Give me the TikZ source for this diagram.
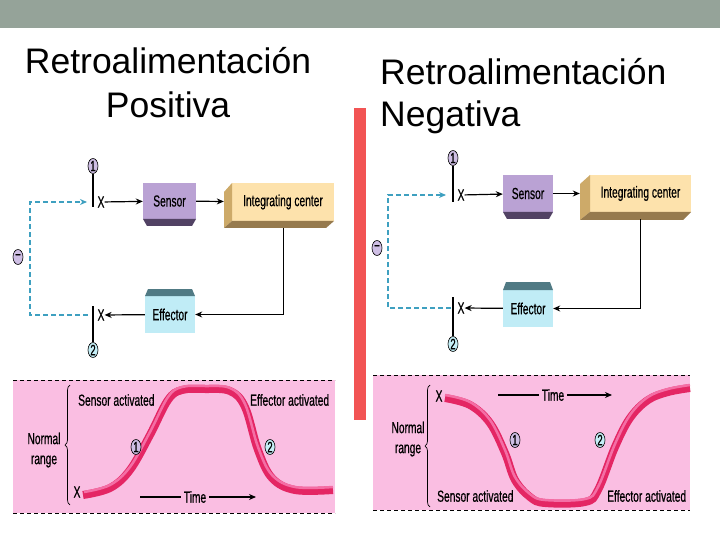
\documentclass[tikz,border=0pt]{standalone}
\usepackage{fontspec}
\setmainfont{Liberation Sans}
\newfontfamily\narrowfont[FakeStretch=0.64,FakeBold=0.6]{Liberation Sans}
\usetikzlibrary{positioning}
\usetikzlibrary{shapes.geometric,arrows.meta,decorations.pathreplacing}

\definecolor{barGray}{RGB}{149,163,153}
\definecolor{splitRed}{RGB}{242,84,84}
\definecolor{sensorFace}{RGB}{186,162,212}
\definecolor{sensorDark}{RGB}{82,66,100}
\definecolor{centerFace}{RGB}{253,226,172}
\definecolor{centerSide}{RGB}{205,170,105}
\definecolor{centerDark}{RGB}{150,122,78}
\definecolor{effFace}{RGB}{192,236,246}
\definecolor{effDark}{RGB}{80,122,132}
\definecolor{fbBlue}{RGB}{62,160,192}
\definecolor{numOne}{RGB}{206,190,228}
\definecolor{numTwo}{RGB}{196,238,246}
\definecolor{graphPink}{RGB}{250,190,226}
\definecolor{bandRed}{RGB}{228,38,100}
\definecolor{bandLight}{RGB}{244,110,165}

\tikzset{
  title/.style={font=\fontsize{35.5}{40}\selectfont, inner sep=0pt},
  lbl/.style={font=\narrowfont\fontsize{16}{20}\selectfont, inner sep=0pt},
  num/.style={ellipse, draw, line width=0.6pt, minimum width=10pt, minimum height=15pt,
    inner sep=0pt, font=\narrowfont\fontsize{15}{15}\selectfont},
  arr/.style={line width=1.2pt, -{Stealth[length=7pt,width=6pt]}},
  fb/.style={dash pattern=on 5pt off 3pt, line width=1.3pt, draw=fbBlue,
    -{Stealth[length=7pt,width=6pt]}},
  tick/.style={line width=1.5pt},
  band/.style={line width=8pt, draw=bandRed},
  bandhi/.style={line width=2.5pt, draw=bandLight},
  rule/.style={dash pattern=on 4pt off 3pt, line width=0.9pt},
  brc/.style={decorate, decoration={brace, amplitude=5pt}, line width=0.7pt},
}

\begin{document}
\begin{tikzpicture}[x=1pt,y=-1pt]
 \useasboundingbox (0,0) rectangle (720,540);
 \fill[barGray] (0,0) rectangle (720,28);
 \fill[splitRed] (354,108) rectangle (366,420);

 % titles
 \node[title, anchor=base] (tpos1) at (168,74) {Retroalimentación};
 \node[title, anchor=base] (tpos2) at (168,118) {Positiva};
 \node[title, anchor=base west] (tneg1) at (380,85) {Retroalimentación};
 \node[title, anchor=base west] (tneg2) at (380,127) {Negativa};

 % positive loop
 \node[lbl, fill=sensorFace, minimum width=53pt, minimum height=36pt] (sena) at (169.5,201) {Sensor};
 \fill[sensorDark] (143,219) -- (196,219) -- (192,226) -- (147,226) -- cycle;
 \node[lbl, fill=centerFace, minimum width=102pt, minimum height=38pt] (inta) at (283,202) {Integrating center};
 \fill[centerSide] (232,183) -- (224,192) -- (224,228) -- (232,221) -- cycle;
 \fill[centerDark] (224,228) -- (232,221) -- (334,221) -- (326,228) -- cycle;
 \node[lbl, fill=effFace, minimum width=50pt, minimum height=37pt] (effa) at (170,314.5) {Effector};
 \fill[effDark] (145,296) -- (148,289) -- (192,289) -- (195,296) -- cycle;
 \node[lbl] (x1a) at (101,202) {X};
 \node[lbl] (x2a) at (101,315) {X};
 \node[num, fill=numOne] (n1a) at (93,166) {1};
 \node[num, fill=numTwo] (n2a) at (93,350) {2};
 \node[num, fill=numOne] (ma) at (18,257) {\char"2212};
 \coordinate (t1a) at (93,207);
 \coordinate (t2a) at (93,306);
 \coordinate (fa0) at (88,315);
 \coordinate (fa1) at (87,202);
 \draw[tick] (n1a) -- (t1a);
 \draw[tick] (t2a) -- (n2a);
 \draw[arr] (x1a) -- (sena);
 \draw[arr, shorten >=8pt] (sena) -- (inta);
 \draw[arr, line width=1pt, shorten <=7pt] (inta.south) |- (effa.east);
 \draw[arr] (effa) -- (x2a);
 \draw[fb] (fa0) -- ++(-58,0) |- (fa1);

 % negative loop
 \node[lbl, fill=sensorFace, minimum width=50pt, minimum height=37pt] (senb) at (528,193.5) {Sensor};
 \fill[sensorDark] (503,212) -- (553,212) -- (549,219) -- (507,219) -- cycle;
 \node[lbl, fill=centerFace, minimum width=101pt, minimum height=37pt] (intb) at (640.5,193.5) {Integrating center};
 \fill[centerSide] (590,175) -- (580,184) -- (580,220) -- (590,212) -- cycle;
 \fill[centerDark] (580,220) -- (590,212) -- (691,212) -- (683,220) -- cycle;
 \node[lbl, fill=effFace, minimum width=50pt, minimum height=37pt] (effb) at (528,308.5) {Effector};
 \fill[effDark] (503,290) -- (506,282) -- (550,282) -- (553,290) -- cycle;
 \node[lbl] (x1b) at (461,195) {X};
 \node[lbl] (x2b) at (461,308) {X};
 \node[num, fill=numOne] (n1b) at (453,158) {1};
 \node[num, fill=numTwo] (n2b) at (453,344) {2};
 \node[num, fill=numOne] (mb) at (377,248) {\char"2212};
 \coordinate (t1b) at (453,202);
 \coordinate (t2b) at (453,297);
 \coordinate (fb0) at (451,308);
 \coordinate (fb1) at (446,195);
 \draw[tick] (n1b) -- (t1b);
 \draw[tick] (t2b) -- (n2b);
 \draw[arr] (x1b) -- (senb);
 \draw[arr, shorten >=10pt] (senb) -- (intb);
 \draw[arr, line width=1pt, shorten <=7pt] (intb.south) |- (effb.east);
 \draw[arr] (effb) -- (x2b);
 \draw[fb] (fb0) -- ++(-63,0) |- (fb1);

 % positive graph
 \fill[graphPink] (13,380) rectangle (335,513);
 \draw[rule] (13,380) -- (335,380);
 \draw[rule] (13,513) -- (335,513);
 \draw[band] plot[smooth, tension=0.6] coordinates {(83,495) (110,488) (130,470) (150,435) (168,400) (182,390) (205,389) (230,391) (245,407) (258,450) (272,478) (295,490) (333,490)};
 \draw[bandhi] plot[smooth, tension=0.6] coordinates {(84,492) (110,485) (130,467) (150,432) (168,397) (182,387) (205,386) (230,388) (245,404) (258,447) (272,475) (295,487) (333,487)};
 \draw[brc] (70,505) -- (70,385);
 \node[lbl, align=center] (nra) at (44,450) {Normal\\range};
 \node[lbl, anchor=west] (sga) at (78,400) {Sensor activated};
 \node[lbl, anchor=west] (ega) at (250,400) {Effector activated};
 \node[lbl] (xga) at (77,492) {X};
 \node[num, fill=numOne] (g1a) at (136,447) {1};
 \node[num, fill=numTwo] (g2a) at (270,447) {2};
 \node[lbl] (tia) at (195,497) {Time};
 \coordinate (ta0) at (140,497);
 \coordinate (ta1) at (256,497);
 \draw[line width=1.2pt, shorten >=3pt] (ta0) -- (tia);
 \draw[arr, shorten <=3pt] (tia) -- (ta1);

 % negative graph
 \fill[graphPink] (373,375) rectangle (690,510);
 \draw[rule] (373,375) -- (690,375);
 \draw[rule] (373,510) -- (690,510);
 \draw[band] plot[smooth, tension=0.6] coordinates {(445,398) (470,405) (490,423) (505,453) (515,480) (530,497) (545,503) (585,502) (598,490) (615,447) (630,418) (648,400) (668,392) (690,388)};
 \draw[bandhi] plot[smooth, tension=0.6] coordinates {(445,395) (470,402) (490,420) (505,450) (515,477) (530,494) (545,500) (585,499) (598,487) (615,444) (630,415) (648,397) (668,389) (690,385)};
 \draw[brc] (430,507) -- (430,385);
 \node[lbl, align=center] (nrb) at (408,439) {Normal\\range};
 \node[lbl, anchor=west] (sgb) at (437,496) {Sensor activated};
 \node[lbl, anchor=west] (egb) at (607,496) {Effector activated};
 \node[lbl] (xgb) at (439,396) {X};
 \node[num, fill=numOne] (g1b) at (515,440) {1};
 \node[num, fill=numTwo] (g2b) at (600,440) {2};
 \node[lbl] (tib) at (553,395) {Time};
 \coordinate (tb0) at (498,395);
 \coordinate (tb1) at (612,395);
 \draw[line width=1.2pt, shorten >=3pt] (tb0) -- (tib);
 \draw[arr, shorten <=3pt] (tib) -- (tb1);
\end{tikzpicture}
\end{document}
